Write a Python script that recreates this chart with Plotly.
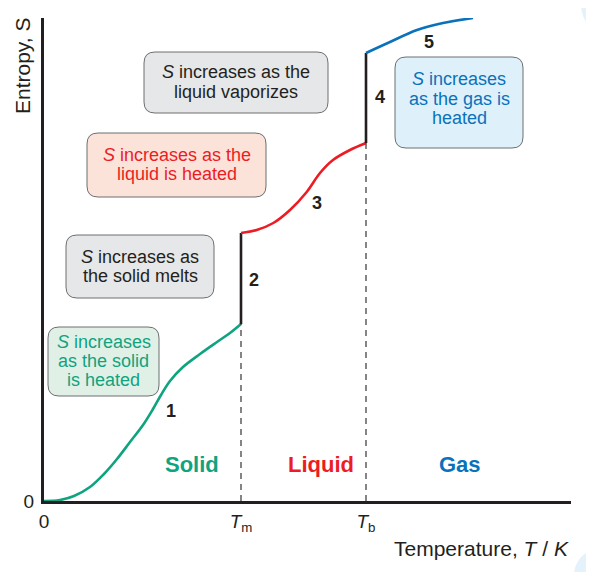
import plotly.graph_objects as go

# ---------------- data ----------------
T_melt = 197
T_boil = 322

solid_T = [0, 16, 30, 46, 60, 73, 86, 99, 109, 117, 126, 139, 156, 173, 186, 197]
solid_S = [0, 1, 5, 14, 27, 42, 59, 76, 92, 106, 120, 134, 147, 159, 168, 177]

liquid_T = [197, 212.7, 229.3, 246, 262.7, 276, 289, 306, 322]
liquid_S = [268, 271, 278, 291, 309, 328, 341, 351, 358]

gas_T = [322, 346, 373, 399, 429]
gas_S = [448, 459, 471, 478, 483]

x_tick_vals = [0, T_melt, T_boil]
x_tick_text = ["0", "<i>T</i><sub>m</sub>", "<i>T</i><sub>b</sub>"]
y_tick_vals = [0]
y_tick_text = ["0"]

phase_names = ["Solid", "Liquid", "Gas"]
step_labels = ["1", "2", "3", "4", "5"]

# ---------------- style ----------------
FONT = "Liberation Sans, Arial, Helvetica, sans-serif"
INK = "#231f20"
GREEN = "#0fa37f"
RED = "#ed1c24"
BLUE = "#0a72ba"

OFF = 8                      # browser body margin
W, H = 594 - OFF, 572 - OFF
L, T = 44 - OFF, 18 - OFF
R = W - (571 - OFF)
B = H - (501 - OFF)
PW, PH = W - L - R, H - T - B

fig = go.Figure()

fig.add_trace(go.Scatter(x=solid_T, y=solid_S, mode="lines", line=dict(color=GREEN, width=2.6, shape="spline", smoothing=1.0), hoverinfo="skip"))
fig.add_trace(go.Scatter(x=[T_melt, T_melt], y=[solid_S[-1], liquid_S[0]], mode="lines", line=dict(color=INK, width=2.6), hoverinfo="skip"))
fig.add_trace(go.Scatter(x=liquid_T, y=liquid_S, mode="lines", line=dict(color=RED, width=2.6, shape="spline"), hoverinfo="skip"))
fig.add_trace(go.Scatter(x=[T_boil, T_boil], y=[liquid_S[-1], gas_S[0]], mode="lines", line=dict(color=INK, width=2.6), hoverinfo="skip"))
fig.add_trace(go.Scatter(x=gas_T, y=gas_S, mode="lines", line=dict(color=BLUE, width=2.6, shape="spline"), hoverinfo="skip"))

# dashed guide lines
fig.add_trace(go.Scatter(x=[T_melt, T_melt], y=[0, solid_S[-1]], mode="lines", line=dict(color="#444", width=1.3, dash="6px,5px"), hoverinfo="skip"))
fig.add_trace(go.Scatter(x=[T_boil, T_boil], y=[0, liquid_S[-1]], mode="lines", line=dict(color="#444", width=1.3, dash="6px,5px"), hoverinfo="skip"))

shapes = []
annotations = []


def rounded_box(x0, y0, x1, y1, r, fill, line="#6d6e70"):
    path = (f"M {x0 + r},{y0} L {x1 - r},{y0} Q {x1},{y0} {x1},{y0 + r} "
            f"L {x1},{y1 - r} Q {x1},{y1} {x1 - r},{y1} "
            f"L {x0 + r},{y1} Q {x0},{y1} {x0},{y1 - r} "
            f"L {x0},{y0 + r} Q {x0},{y0} {x0 + r},{y0} Z")
    shapes.append(dict(type="path", path=path, xref="x", yref="y", fillcolor=fill,
                       line=dict(color=line, width=1), layer="below"))


# positions below are given in screenshot pixels (page coordinates)
def px(xp, yp):
    return xp - 44, 501 - yp


def ppaper(xp, yp):
    return (xp - 44) / PW, (501 - yp) / PH


def text(xp, yp, s, color=INK, size=18, bold=False, **kw):
    if bold:
        s = f"<b>{s}</b>"
    x, y = ppaper(xp, yp)
    annotations.append(dict(x=x, y=y, xref="paper", yref="paper", text=s, showarrow=False,
                            font=dict(family=FONT, size=size, color=color),
                            xanchor="center", yanchor="middle", **kw))


def box(xp0, yp0, xp1, yp1, fill, lines, line_ys, color):
    x0, y1 = px(xp0, yp0)
    x1, y0 = px(xp1, yp1)
    rounded_box(x0, y0, x1, y1, 11, fill)
    cx = (xp0 + xp1) / 2
    for s, yp in zip(lines, line_ys):
        text(cx, yp, s, color=color, size=18)


box(144, 52, 328, 113, "#e6e7e8", ["<i>S</i> increases as the", "liquid vaporizes"], [72, 92], INK)
box(87, 133, 266, 197, "#fce3da", ["<i>S</i> increases as the", "liquid is heated"], [155, 174], RED)
box(66, 235, 214, 298, "#e6e7e8", ["<i>S</i> increases as", "the solid melts"], [257, 276], INK)
box(48, 327, 159, 396, "#e1f0e7", ["<i>S</i> increases", "as the solid", "is heated"], [342, 361, 380], GREEN)
box(395, 57, 523, 148, "#def0fa", ["<i>S</i> increases", "as the gas is", "heated"], [79, 99, 118], BLUE)

# step numbers
for s, (xp, yp) in zip(step_labels, [(171, 411), (254, 280), (317, 203), (380, 97), (429, 42)]):
    text(xp, yp, s, size=18, bold=True)

# phase names
for s, c, (xp, yp) in zip(phase_names, [GREEN, RED, BLUE], [(192, 464), (321, 464), (460, 464)]):
    text(xp, yp, s, color=c, size=22, bold=True)

# axis titles
text(23, 66, "Entropy, S", size=21, textangle=-90)
text(481, 548, "Temperature, <i>T</i> / <i>K</i>", size=21)

# faint decorative page corners
for cxp, cyp, rp in [(612, 5, 31), (600, 575, 26)]:
    xa, ya = ppaper(cxp - rp, cyp + rp)
    xb, yb = ppaper(cxp + rp, cyp - rp)
    shapes.append(dict(type="circle", xref="paper", yref="paper", x0=xa, y0=ya, x1=xb, y1=yb,
                       fillcolor="#e4f2fb", line=dict(width=0), layer="below"))

fig.update_layout(
    width=W, height=H,
    margin=dict(l=L, r=R, t=T, b=B, autoexpand=False),
    paper_bgcolor="white", plot_bgcolor="white",
    showlegend=False,
    shapes=shapes, annotations=annotations,
    font=dict(family=FONT, color=INK),
    xaxis=dict(range=[0, PW], showgrid=False, zeroline=False, showline=True, automargin=False,
               linecolor=INK, linewidth=3, tickvals=x_tick_vals, ticktext=x_tick_text,
               ticks="", tickfont=dict(size=19, color=INK), ticklabelstandoff=1, fixedrange=True),
    yaxis=dict(range=[0, PH], showgrid=False, zeroline=False, showline=True, automargin=False,
               linecolor=INK, linewidth=3, tickvals=y_tick_vals, ticktext=y_tick_text,
               ticks="", tickfont=dict(size=19, color=INK), ticklabelstandoff=3, fixedrange=True),
)

fig.write_html("out.html")
